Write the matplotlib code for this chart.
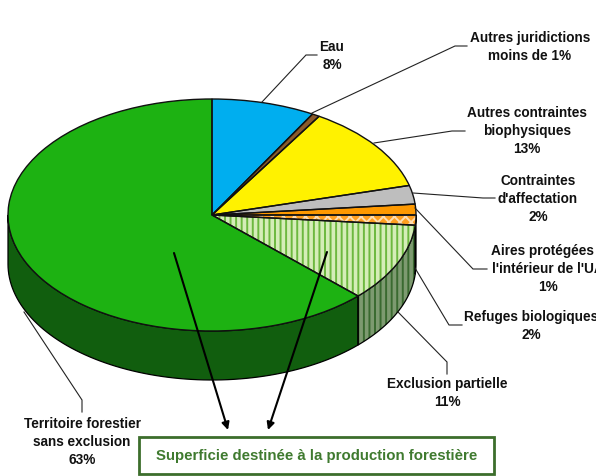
import numpy as np
import matplotlib
matplotlib.use('Agg')
import matplotlib.pyplot as plt
from matplotlib.patches import Polygon, Rectangle

plt.rcParams['font.family'] = ['Liberation Sans', 'DejaVu Sans']
plt.rcParams['font.weight'] = 'bold'
plt.rcParams['hatch.linewidth'] = 1.4

# Slice sizes (%), clockwise from the top
shares = [8.2, 0.6, 12.1, 2.6, 1.5, 1.4, 10.9, 62.7]
top_colors = ['#00AEEF', '#8B5A2B', '#FFF200', '#BEBEBE', '#FF9900', '#FF9F20', '#D5EDB8', '#1DB212']
wall_colors = ['#00AEEF', '#8B5A2B', '#FFF200', '#BEBEBE', '#FF9900', '#7A4A10', '#7D9A70', '#115E0E']

labels = [
    'Eau\n8%',
    'Autres juridictions\nmoins de 1%',
    'Autres contraintes\nbiophysiques\n13%',
    'Contraintes\nd\'affectation\n2%',
    'Aires protégées à\nl\'intérieur de l\'UA\n1%',
    'Refuges biologiques\n2%',
    'Exclusion partielle\n11%',
    'Territoire forestier\nsans exclusion\n63%',
]
label_x = [332, 530, 527, 538, 548, 531, 447, 82]
label_y = [56, 47, 131, 199, 269, 326, 393, 442]

# leader lines, in picture pixels
leaders = [
    ([262, 306, 317], [102, 55, 55]),
    ([312, 455, 467], [113, 46, 46]),
    ([374, 452, 465], [143, 131, 131]),
    ([413, 483, 495], [193, 198, 198]),
    ([415, 473, 487], [208, 269, 269]),
    ([415, 449, 462], [268, 325, 325]),
    ([398, 447, 447], [312, 362, 374]),
    ([24, 82, 82], [312, 400, 412]),
]
arrow_start = [(174, 253), (327, 252)]
arrow_end = [(228, 430), (268, 430)]
box_text = 'Superficie destinée à la production forestière'

# pie geometry in pixels
cx, cy, rx, ry, depth = 212, 215, 204, 116, 49
W, H = 596, 476

fig = plt.figure(figsize=(W / 100, H / 100), dpi=100, facecolor='white')

# Pie axes: one data unit is rx pixels across and ry pixels down
ax = fig.add_axes([0, 0, 1, 1])
ax.axis('off')

# Walls of the 3D pie, front half only
d = depth / ry
edges = np.cumsum([0] + shares) * 3.6
for i in range(len(shares)):
    a0 = max(edges[i], 90)
    a1 = min(edges[i + 1], 270)
    if a1 <= a0:
        continue
    t = np.radians(np.linspace(a0, a1, 80))
    xs = np.sin(t)
    ys = np.cos(t)
    pts = np.column_stack([np.r_[xs, xs[::-1]], np.r_[ys, ys[::-1] - d]])
    hatched = i == 6
    ax.add_patch(Polygon(pts, closed=True, facecolor=wall_colors[i],
                         edgecolor='#3A6A30' if hatched else 'none',
                         hatch='|||' if hatched else None, lw=0, zorder=1))
    ax.add_patch(Polygon(pts, closed=True, fill=False, edgecolor='black', lw=0.9, zorder=2))

wedges, _ = ax.pie(shares, colors=top_colors, startangle=90, counterclock=False,
                   wedgeprops={'linewidth': 0})
for w in wedges:
    w.set_zorder(3)
wedges[5].set_hatch('xxx')
wedges[5].set_edgecolor('#FFDDB0')
wedges[6].set_hatch('|||')
wedges[6].set_edgecolor('#6DB83F')

outline, _ = ax.pie(shares, colors=['none'] * len(shares), startangle=90, counterclock=False,
                    wedgeprops={'linewidth': 1.0, 'edgecolor': '#111111'})
for w in outline:
    w.set_zorder(4)

ax.set_aspect('auto')
ax.set_xlim(-cx / rx, (W - cx) / rx)
ax.set_ylim((cy - H) / ry, cy / ry)

# Overlay axes in pixels for the leaders, labels and box
ov = fig.add_axes([0, 0, 1, 1], facecolor='none')
ov.set_xlim(0, W)
ov.set_ylim(H, 0)
ov.axis('off')

for xs, ys in leaders:
    ov.plot(xs, ys, color='#222222', lw=0.8, solid_joinstyle='miter')

for txt, x, y in zip(labels, label_x, label_y):
    ov.text(x, y, txt, ha='center', va='center', fontsize=9.8, color='#111111',
            linespacing=1.32, clip_on=True)

for s, e in zip(arrow_start, arrow_end):
    ov.annotate('', xy=e, xytext=s,
                arrowprops=dict(arrowstyle='-|>', color='black', lw=1.5,
                                mutation_scale=11, shrinkA=0, shrinkB=0))

ov.add_patch(Rectangle((139, 437), 355, 37, facecolor='white', edgecolor='#3C6E2C', lw=2))
ov.text(316.5, 456, box_text, ha='center', va='center', fontsize=10.8, color='#3F7A2F')

fig.savefig('out.png', dpi=100)
